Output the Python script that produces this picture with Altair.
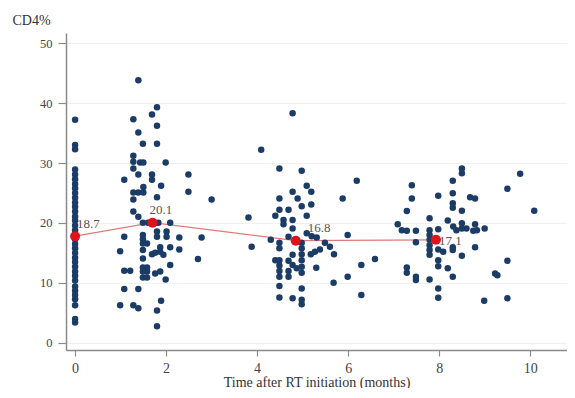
import altair as alt
import pandas as pd

# ---- data ----
# visit at time 0 (all at x = 0)
v0_y = [37.2, 33.0, 32.3, 28.9, 28.1, 27.3, 26.5, 25.8, 25.0, 24.2, 23.4, 22.7,
        21.9, 21.1, 20.4, 19.6, 18.8, 18.1, 17.3, 16.5, 15.8, 15.0, 14.2, 13.5,
        12.7, 11.9, 11.2, 10.4, 9.4, 8.7, 8.0, 7.3, 6.3, 4.0, 3.4]

v1_x = [1.39, 1.80, 1.69, 1.28, 1.80, 1.39, 1.49, 1.80, 1.28, 1.28, 1.43, 1.50,
        1.99, 1.28, 1.39, 1.69, 1.69, 2.49, 1.08, 1.50, 1.89, 1.28, 1.39, 1.50,
        2.49, 1.28, 1.80, 3.00, 1.28, 1.39, 1.49, 1.60, 1.76, 1.83, 2.09, 1.08,
        1.49, 1.49, 1.49, 1.80, 1.80, 2.01, 2.01, 2.29, 2.78, 1.58, 0.99, 1.49,
        1.69, 1.76, 1.87, 1.94, 1.87, 2.09, 2.29, 2.70, 1.49, 2.09, 1.08, 1.21,
        1.49, 1.58, 1.49, 1.58, 1.49, 1.58, 1.76, 1.87, 1.99, 1.08, 1.39, 1.89,
        0.99, 1.28, 1.39, 1.80, 1.80]
v1_y = [43.8, 39.3, 38.1, 37.3, 36.2, 35.1, 33.2, 33.2, 31.2, 30.2, 30.1, 30.1,
        30.1, 29.1, 28.1, 28.1, 27.2, 28.1, 27.2, 26.0, 26.2, 25.1, 25.1, 25.1,
        25.2, 23.9, 24.3, 23.9, 21.9, 21.05, 20.05, 20.05, 20.05, 20.05, 20.05, 17.7,
        18.0, 17.3, 16.6, 18.6, 17.7, 18.6, 17.7, 17.6, 17.6, 16.6, 15.3, 15.5,
        14.8, 15.05, 15.2, 14.7, 15.95, 15.95, 15.6, 14.0, 14.1, 13.0, 12.05, 12.05,
        12.6, 12.6, 11.9, 11.9, 10.9, 10.9, 11.6, 11.9, 10.6, 9.0, 9.0, 7.05,
        6.3, 6.3, 5.8, 5.4, 2.8]

v2_x = [4.78, 4.09, 4.49, 4.98, 6.19, 5.09, 4.78, 5.19, 4.49, 4.89, 5.88, 4.98,
        5.19, 4.49, 4.69, 3.81, 4.40, 5.09, 4.58, 4.58, 4.78, 4.78, 4.69, 4.49,
        4.49, 4.30, 3.88, 5.09, 5.20, 5.31, 4.98, 4.98, 4.98, 4.98, 4.98, 4.98,
        4.78, 5.49, 5.60, 5.38, 5.27, 5.18, 5.69, 5.99, 4.40, 4.49, 4.49, 4.49,
        4.49, 4.69, 4.78, 4.87, 4.69, 5.30, 6.29, 6.59, 4.69, 5.68, 5.99, 4.49,
        4.98, 4.49, 4.78, 4.98, 4.98, 6.29]
v2_y = [38.3, 32.2, 29.1, 28.7, 27.05, 26.2, 25.2, 25.2, 24.1, 24.1, 24.1, 22.8,
        23.1, 22.2, 22.2, 20.9, 21.2, 21.2, 20.5, 19.8, 20.5, 19.1, 17.7, 16.7,
        15.8, 17.2, 16.05, 18.3, 17.8, 17.6, 16.7, 15.8, 14.8, 13.8, 12.7, 11.7,
        14.7, 16.7, 16.05, 15.6, 15.2, 14.8, 14.8, 18.0, 13.8, 13.8, 12.9, 12.0,
        11.05, 13.7, 13.0, 12.45, 12.0, 12.55, 13.0, 14.0, 11.05, 10.05, 11.05, 9.5,
        9.1, 7.6, 7.45, 7.2, 6.45, 8.0]

v3_x = [8.50, 8.50, 9.78, 7.40, 8.30, 9.50, 7.40, 7.98, 8.30, 8.68, 8.79, 8.30,
        8.30, 8.50, 10.09, 7.29, 7.79, 8.19, 7.09, 7.18, 7.29, 7.49, 7.79, 7.79,
        7.79, 7.79, 7.79, 7.79, 7.98, 8.31, 8.38, 8.50, 8.50, 8.60, 8.79, 8.75,
        8.83, 9.00, 7.49, 7.98, 8.09, 8.30, 8.30, 8.50, 8.79, 7.98, 7.98, 8.19,
        7.29, 7.29, 7.49, 7.49, 7.79, 8.30, 9.50, 9.28, 9.23, 7.98, 7.98, 8.99,
        9.50]
v3_y = [29.1, 28.3, 28.2, 26.3, 27.05, 25.7, 24.1, 24.55, 24.95, 24.3, 24.1, 23.3,
        22.55, 22.05, 22.05, 22.0, 20.8, 20.4, 19.8, 18.8, 18.7, 18.7, 18.8, 18.0,
        17.2, 16.3, 15.5, 14.7, 18.95, 19.4, 18.8, 19.95, 19.1, 19.1, 19.8, 18.7,
        18.8, 19.1, 16.8, 15.6, 15.2, 15.95, 15.5, 14.55, 15.95, 13.8, 12.8, 12.45,
        12.6, 11.7, 11.05, 10.5, 10.6, 11.05, 13.7, 11.3, 11.6, 9.1, 7.55, 7.05,
        7.45]

mean_x = [0.0, 1.70, 4.85, 7.93]
mean_y = [17.8, 20.05, 17.05, 17.2]
mean_labels = ["18.7", "20.1", "16.8", "17.1"]

x_ticks = [0, 2, 4, 6, 8, 10]
y_ticks = [0, 10, 20, 30, 40, 50]

# ---- tables ----
pts = pd.DataFrame({
    "t": [0.0] * len(v0_y) + v1_x + v2_x + v3_x,
    "cd4": v0_y + v1_y + v2_y + v3_y,
})
means = pd.DataFrame({"t": mean_x, "cd4": mean_y, "lab": mean_labels})

FONT = "Liberation Serif"
xs = alt.Scale(domain=[-0.2, 10.81], nice=False, zero=False)
ys = alt.Scale(domain=[-1.17, 51.67], nice=False, zero=False)

x_enc = alt.X("t:Q", scale=xs, axis=alt.Axis(
    values=x_ticks, title="Time after RT initiation (months)", grid=False,
    domainColor="#8a8a8a", domainWidth=1.5, tickColor="#8a8a8a", tickWidth=1.2,
    tickSize=6, labelPadding=5, labelFont=FONT, labelFontSize=14, labelColor="#444",
    titleFont=FONT, titleFontSize=14, titleFontWeight="normal", titleColor="#333",
    titleBaseline="middle", titleY=32))
y_enc = alt.Y("cd4:Q", scale=ys, axis=alt.Axis(
    values=y_ticks, title="CD4%", grid=True, gridColor="#f0f0f0", gridWidth=1,
    domainColor="#8a8a8a", domainWidth=1.5, tickColor="#8a8a8a", tickWidth=1.2,
    tickSize=8, labelPadding=6, labelFont=FONT, labelFontSize=12.5, labelColor="#444",
    titleFont=FONT, titleFontSize=14, titleFontWeight="normal", titleColor="#333",
    titleAngle=0, titleAlign="left", titleBaseline="middle", titleX=-54, titleY=-13))

base_m = alt.Chart(means)

line = base_m.mark_line(color="#e07a7a", strokeWidth=1.2).encode(x=x_enc, y=y_enc)
dots = alt.Chart(pts).mark_circle(size=42, color="#1b3c66", opacity=1).encode(
    x=alt.X("t:Q", scale=xs), y=alt.Y("cd4:Q", scale=ys))
red = base_m.mark_circle(size=100, color="#e0121c", opacity=1).encode(
    x=alt.X("t:Q", scale=xs), y=alt.Y("cd4:Q", scale=ys))

offsets = [(2, -12), (-3, -13), (12, -13), (3, 1)]
labels = []
for i, (dx, dy) in enumerate(offsets):
    labels.append(
        alt.Chart(means.iloc[[i]]).mark_text(
            font=FONT, fontSize=13, color="#555", align="left", baseline="middle",
            dx=dx, dy=dy).encode(
            x=alt.X("t:Q", scale=xs), y=alt.Y("cd4:Q", scale=ys), text="lab:N"))

chart = alt.layer(line, dots, red, *labels).properties(
    width=501, height=317,
    autosize=alt.AutoSizeParams(type="none"),
    padding={"left": 58, "top": 25, "right": 0, "bottom": 38},
    background="white",
).configure_view(stroke=None)

chart.save("out.html", embed_options={"renderer": "svg", "actions": False})
